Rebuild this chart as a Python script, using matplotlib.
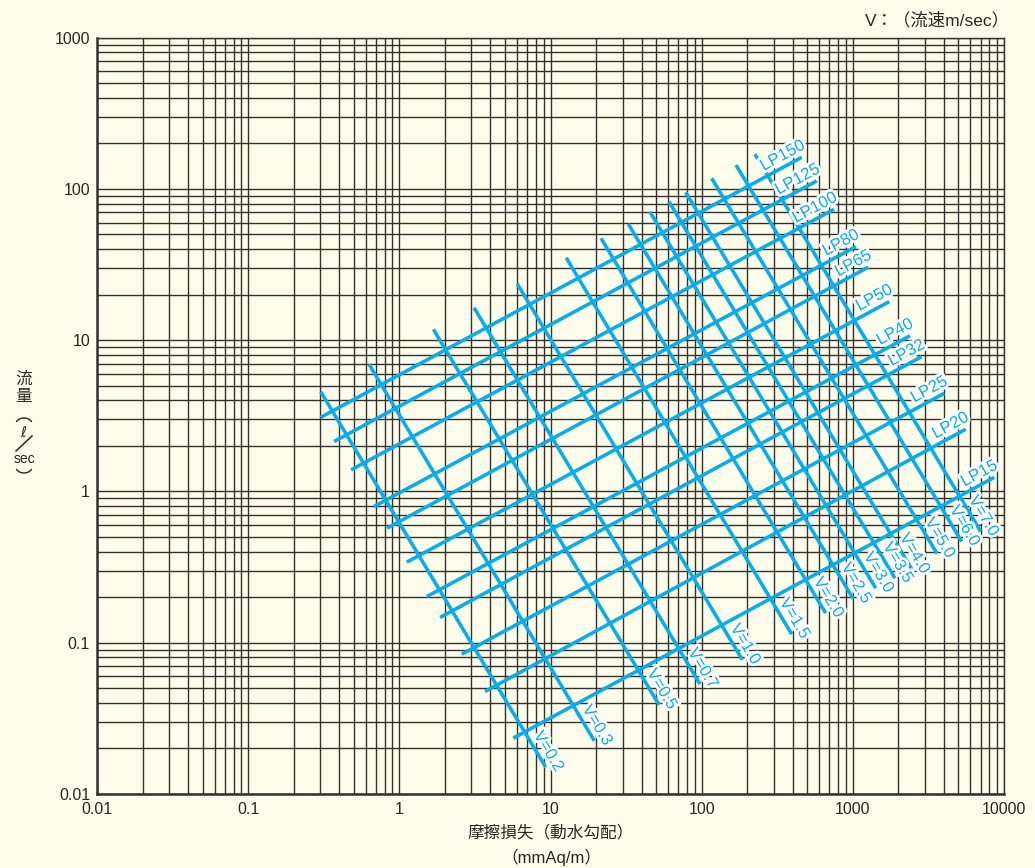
import numpy as np
import matplotlib
matplotlib.use('Agg')
import matplotlib.pyplot as plt
import matplotlib.patheffects as pe
from matplotlib.ticker import LogLocator, NullFormatter, FixedLocator
from matplotlib.lines import Line2D
from matplotlib.patches import Arc

# pipe lines (LP) : friction loss h [mmAq/m] vs flow q [l/sec], start and end points
lp_names = ['LP150', 'LP125', 'LP100', 'LP80', 'LP65', 'LP50', 'LP40', 'LP32', 'LP25', 'LP20', 'LP15']
lp_h0 = [0.30, 0.37, 0.48, 0.68, 0.83, 1.12, 1.52, 1.86, 2.59, 3.69, 5.67]
lp_q0 = [3.08, 2.14, 1.39, 0.795, 0.572, 0.341, 0.202, 0.147, 0.084, 0.0476, 0.0234]
lp_h1 = [459, 577, 750, 1049, 1265, 1742, 2388, 2854, 4027, 5578, 8625]
lp_q1 = [162, 113, 73.4, 41.6, 30.4, 18.0, 10.7, 7.79, 4.46, 2.58, 1.24]

# velocity lines (V, m/sec)
v_names = ['0.2', '0.3', '0.5', '0.7', '1.0', '1.5', '2.0', '2.5', '3.0', '3.5', '4.0', '5.0', '6.0', '7.0']
v_h0 = [0.302, 0.630, 1.68, 3.12, 6.03, 12.7, 21.6, 32.7, 45.5, 60.8, 78.4, 116.5, 168.7, 225]
v_q0 = [4.57, 6.94, 11.8, 16.4, 23.6, 35.1, 47.2, 58.7, 70.5, 82.4, 95.1, 117.7, 144, 170]
v_h1 = [9.29, 19.5, 52.2, 97.5, 186, 394, 661, 1007, 1416, 1900, 2451, 3603, 5250, 7012]
v_q1 = [0.01506, 0.02247, 0.0389, 0.0533, 0.0771, 0.114, 0.157, 0.195, 0.2296, 0.267, 0.3066, 0.389, 0.467, 0.543]

x_ticks = [0.01, 0.1, 1, 10, 100, 1000, 10000]
x_ticklabels = ['0.01', '0.1', '1', '10', '100', '1000', '10000']
y_ticks = [0.01, 0.1, 1, 10, 100, 1000]
y_ticklabels = ['0.01', '0.1', '1', '10', '100', '1000']

BG = '#FEFCEB'
BLUE = '#0AADE8'
GRID = '#35302c'
TXT = '#2a2623'
CJK = ['Noto Sans CJK JP', 'DejaVu Sans']
MIX = ['Liberation Sans', 'Noto Sans CJK JP', 'DejaVu Sans']

plt.rcParams['font.family'] = ['Liberation Sans', 'DejaVu Sans']

W, H = 1035, 868
fig = plt.figure(figsize=(W / 100, H / 100), dpi=100, facecolor=BG)
ax = fig.add_axes([97 / W, 1 - 794 / H, (1004 - 97) / W, (794 - 37.7) / H])
ax.set_facecolor(BG)
ax.set_xscale('log')
ax.set_yscale('log')
ax.set_xlim(0.01, 10000)
ax.set_ylim(0.01, 1000)

ax.xaxis.set_minor_locator(LogLocator(base=10, subs=np.arange(2, 10), numticks=100))
ax.yaxis.set_minor_locator(LogLocator(base=10, subs=np.arange(2, 10), numticks=100))
ax.xaxis.set_minor_formatter(NullFormatter())
ax.yaxis.set_minor_formatter(NullFormatter())
ax.xaxis.set_major_locator(FixedLocator(x_ticks))
ax.yaxis.set_major_locator(FixedLocator(y_ticks))
ax.set_xticklabels(x_ticklabels)
ax.set_yticklabels(y_ticklabels)
ax.tick_params(which='both', length=0, labelsize=11.5, labelcolor=TXT)
ax.tick_params(axis='x', pad=6)
ax.tick_params(axis='y', pad=5)

ax.grid(which='both', color=GRID, lw=1.0)
ax.set_axisbelow(True)
for s in ax.spines.values():
    s.set_color(GRID)
    s.set_linewidth(1.0)
ax.spines['left'].set_linewidth(1.8)
ax.spines['bottom'].set_linewidth(1.8)

halo = [pe.withStroke(linewidth=4, foreground='white')]
pt = 72 / fig.dpi

for name, h0, q0, h1, q1 in zip(lp_names, lp_h0, lp_q0, lp_h1, lp_q1):
    ax.plot([h0, h1], [q0, q1], color=BLUE, lw=2.6, solid_capstyle='butt', zorder=3)
    p0 = ax.transData.transform((h0, q0))
    p1 = ax.transData.transform((h1, q1))
    d = (p1 - p0) / np.hypot(*(p1 - p0))
    n = np.array([-d[1], d[0]])
    off = (d * 8 + n * 3) * pt
    ang = np.degrees(np.arctan2(d[1], d[0]))
    ax.annotate(name, xy=(h1, q1), xytext=off, textcoords='offset points',
                rotation=ang, rotation_mode='anchor', ha='right', va='bottom',
                color=BLUE, fontsize=12, path_effects=halo, zorder=4)

for name, h0, q0, h1, q1 in zip(v_names, v_h0, v_q0, v_h1, v_q1):
    ax.plot([h0, h1], [q0, q1], color=BLUE, lw=2.6, solid_capstyle='butt', zorder=3)
    p0 = ax.transData.transform((h0, q0))
    p1 = ax.transData.transform((h1, q1))
    d = (p1 - p0) / np.hypot(*(p1 - p0))
    n = np.array([-d[1], d[0]])
    off = (-d * 34 + n * 3) * pt
    ang = np.degrees(np.arctan2(d[1], d[0]))
    ax.annotate('V=' + name, xy=(h1, q1), xytext=off, textcoords='offset points',
                rotation=ang, rotation_mode='anchor', ha='left', va='bottom',
                color=BLUE, fontsize=12, path_effects=halo, zorder=4)


def fpos(x, y):
    return x / W, 1 - y / H


# header
fig.text(*fpos(1010, 20), 'V：（流速m/sec）', ha='right', va='center',
         fontsize=12.5, color=TXT, family=MIX)

# x label
fig.text(*fpos(551, 833), '摩擦損失（動水勾配）', ha='center', va='center',
         fontsize=12, color=TXT, family=CJK)
fig.text(*fpos(551, 857), '（mmAq/m）', ha='center', va='center',
         fontsize=12, color=TXT, family=MIX)

# y label (vertical, stacked)
fig.text(*fpos(24, 379), '流', ha='center', va='center', fontsize=12, color=TXT, family=CJK)
fig.text(*fpos(24, 396), '量', ha='center', va='center', fontsize=12, color=TXT, family=CJK)
fig.add_artist(Arc(fpos(24, 425), 17 / W, 14 / H, theta1=25, theta2=155,
                   transform=fig.transFigure, color=TXT, lw=1.0))
fig.text(*fpos(23, 432), 'ℓ', ha='center', va='center', fontsize=10.5, color=TXT,
         family=['DejaVu Sans'], style='italic')
fig.add_artist(Line2D([16 / W, 32 / W], [1 - 451 / H, 1 - 436 / H], color=TXT, lw=1.1))
fig.text(*fpos(24, 459), 'sec', ha='center', va='center', fontsize=10, color=TXT)
fig.add_artist(Arc(fpos(24, 466), 17 / W, 14 / H, theta1=205, theta2=335,
                   transform=fig.transFigure, color=TXT, lw=1.0))

fig.savefig('out.png', dpi=100, facecolor=BG)
